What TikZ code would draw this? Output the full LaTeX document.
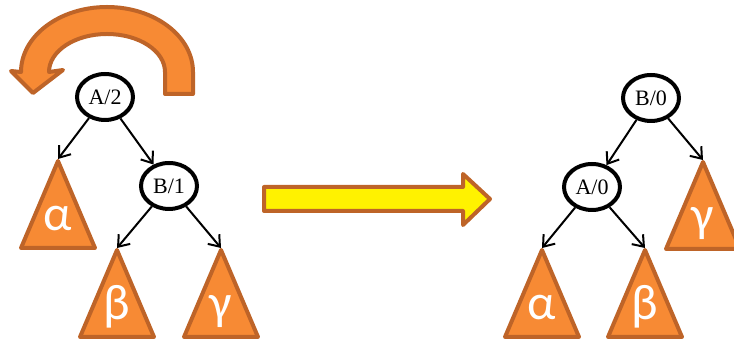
\documentclass[tikz,border=0pt]{standalone}
\usepackage{fontspec}
\setmainfont{Liberation Serif}
\newfontfamily\greekfont{Carlito}
\usetikzlibrary{arrows.meta,shapes.geometric}

\definecolor{subfill}{RGB}{247,138,52}
\definecolor{subedge}{RGB}{190,100,40}

\begin{document}
\begin{tikzpicture}[x=1pt,y=1pt,>={Straight Barb[length=10pt,width=15pt]},
  keynode/.style={ellipse,draw,line width=4pt,minimum width=56pt,minimum height=46pt,
    inner sep=0pt,font=\fontsize{22}{22}\selectfont},
  link/.style={->,line width=2pt},
  subtree/.style={fill=subfill,draw=subedge,line width=4pt,line join=round},
  letter/.style={anchor=base,text=white,font=\greekfont\fontsize{50}{50}\selectfont}]
  \useasboundingbox (0,0) rectangle (734,342);

  % subtrees
  \foreach \n/\x/\y/\t in {a1/58/183/α, b1/117/94/β, g1/221/94/γ,
                           a2/542/94/α, b2/645/94/β, g2/703/182/γ}{
    \coordinate (\n) at (\x,\y);
    \draw[subtree] (\x,\y-2) -- (\x-37,\y-89) -- (\x+37,\y-89) -- cycle;
    \node[letter] (l\n) at (\x,\y-72) {\t};
  }

  % before rotation
  \node[keynode] (A2) at (105,245) {A/2};
  \node[keynode] (B1) at (169,156) {B/1};
  \draw[link] (A2) -- (a1);
  \draw[link] (A2) -- (B1);
  \draw[link] (B1) -- (b1);
  \draw[link] (B1) -- (g1);

  % rotation arrow
  \draw[subtree] (193,248) -- (193,270) arc[start angle=0,end angle=180,x radius=86,y radius=65]
    -- (11,271) -- (33,249) -- (63,272) -- (49,270)
    arc[start angle=180,end angle=0,x radius=58,y radius=38] -- (165,248) -- cycle;

  \draw[subtree,fill=yellow] (264,131) -- (463,131) -- (463,117) -- (490,143)
    -- (463,168) -- (463,155) -- (264,155) -- cycle;

  % after rotation
  \node[keynode] (B0) at (651,244) {B/0};
  \node[keynode] (A0) at (592,155) {A/0};
  \draw[link] (B0) -- (A0);
  \draw[link] (B0) -- (g2);
  \draw[link] (A0) -- (a2);
  \draw[link] (A0) -- (b2);
\end{tikzpicture}
\end{document}
